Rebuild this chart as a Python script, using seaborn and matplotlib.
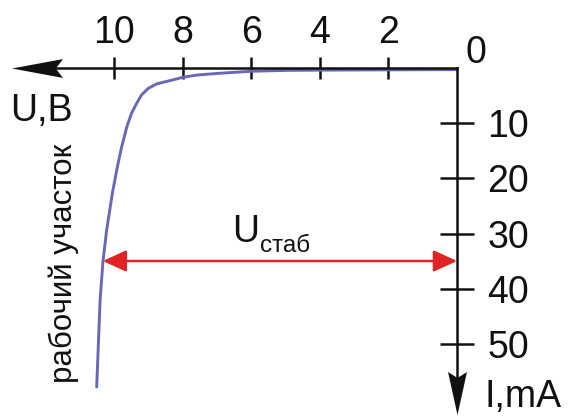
import numpy as np
import pandas as pd
import matplotlib
matplotlib.use("Agg")
import matplotlib.pyplot as plt
from matplotlib.path import Path
import seaborn as sns

# Reverse branch of a Zener diode: voltage U (V) against current I (mA)
U_values = [0.0, 2.0, 4.0, 5.0, 6.0, 7.0, 7.6, 8.0, 8.38, 8.77, 9.01, 9.21,
            9.35, 9.50, 9.64, 9.80, 9.92, 10.06, 10.23, 10.34, 10.42, 10.47, 10.52]
I_values = [0.2, 0.25, 0.3, 0.35, 0.5, 0.9, 1.2, 1.6, 2.2, 2.8, 3.6, 4.8,
            6.3, 8.1, 10.6, 14.5, 18.0, 22.6, 29.4, 35.3, 42.1, 50.0, 57.9]

x_ticks = [2, 4, 6, 8, 10]
y_ticks = [10, 20, 30, 40, 50]

# Stabilisation point marked by the double arrow
U_stab = 10.34
I_stab = 35

curve = pd.DataFrame({"U": U_values, "I": I_values})

sns.set_style("white")
plt.rcParams["font.family"] = ["Liberation Sans", "DejaVu Sans"]

fig = plt.figure(figsize=(5.68, 4.17), dpi=100)
ax = fig.add_axes([0, 0, 1, 1])
ax.set_facecolor("white")

# Voltage grows to the left, current grows downwards
ax.set_xlim(13.343, -3.241)
ax.set_ylim(63.36, -12.45)

axis_lw = 1.8
black = "#111111"

# Axes crossing at the origin
for side in ["left", "bottom"]:
    ax.spines[side].set_visible(False)
ax.spines["top"].set_position(("data", 0))
ax.spines["right"].set_position(("data", 0))
ax.spines["top"].set_bounds(0, 12.4)
ax.spines["right"].set_bounds(0, 58)
for side in ["top", "right"]:
    ax.spines[side].set_linewidth(axis_lw)
    ax.spines[side].set_color(black)
    ax.spines[side].set_zorder(3)

ax.xaxis.set_ticks_position("top")
ax.yaxis.set_ticks_position("right")
ax.set_xticks(x_ticks)
ax.set_xticklabels([str(t) for t in x_ticks])
ax.set_yticks(y_ticks)
ax.set_yticklabels([str(t) for t in y_ticks])
ax.tick_params(axis="x", direction="inout", length=16, width=axis_lw,
               pad=4.5, labelsize=27, colors=black)
ax.tick_params(axis="y", direction="inout", length=24.5, width=axis_lw,
               pad=9.5, labelsize=27, colors=black)

# Arrowheads at the ends of both axes
left_head = Path([(-1, 0), (1, 0.37), (0.72, 0), (1, -0.37), (-1, 0)],
                 [Path.MOVETO, Path.LINETO, Path.LINETO, Path.LINETO, Path.CLOSEPOLY])
down_head = Path([(0, -1), (0.44, 1), (0, 0.72), (-0.44, 1), (0, -1)],
                 [Path.MOVETO, Path.LINETO, Path.LINETO, Path.LINETO, Path.CLOSEPOLY])
ax.plot([12.25], [0], marker=left_head, ms=36.7, color=black, mew=0,
        clip_on=False, zorder=4)
ax.plot([0], [59.06], marker=down_head, ms=31, color=black, mew=0,
        clip_on=False, zorder=4)

# Characteristic curve
sns.lineplot(data=curve, x="U", y="I", sort=False, estimator=None,
             color="#6868b8", linewidth=2.1, ax=ax, zorder=2)
ax.set_xlabel("")
ax.set_ylabel("")

# Stabilisation voltage span
ax.annotate("", xy=(U_stab, I_stab), xytext=(0, I_stab),
            arrowprops=dict(arrowstyle="<|-|>,head_length=0.72,head_width=0.33",
                            mutation_scale=20, color="#e02424", lw=1.8,
                            shrinkA=0, shrinkB=0), zorder=3)

# Labels
ax.text(-0.55, -0.95, "0", fontsize=27, ha="center", va="baseline", color=black)
ax.text(13.05, 9.55, "U,B", fontsize=27, ha="left", va="baseline", color=black)
ax.text(-3.05, 61.5, "I,mA", fontsize=27, ha="right", va="baseline", color=black)
ax.text(11.47, 35.4, "рабочий участок", fontsize=22.5, rotation=90,
        ha="center", va="center", color=black)
ax.text(6.57, 31.5, "U", fontsize=27, ha="left", va="baseline", color=black)
ax.text(5.75, 33.4, "стаб", fontsize=17.5, ha="left", va="baseline", color=black)

fig.savefig("out.png", dpi=100, facecolor="white")
